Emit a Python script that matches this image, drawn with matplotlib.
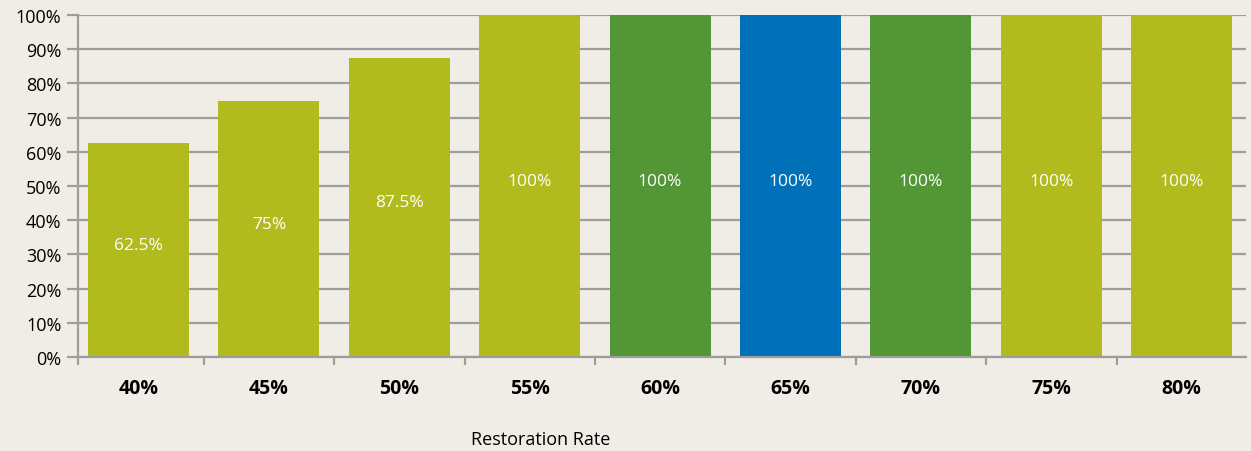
import numpy as np
import matplotlib
matplotlib.use("Agg")
import matplotlib.pyplot as plt
from matplotlib.ticker import FixedLocator, PercentFormatter

# === data ===
categories = ['40%', '45%', '50%', '55%', '60%', '65%', '70%', '75%', '80%']
values = [62.5, 75, 87.5, 100, 100, 100, 100, 100, 100]
value_labels = ['62.5%', '75%', '87.5%', '100%', '100%', '100%', '100%', '100%', '100%']
bar_colors = ['#b2bb1e', '#b2bb1e', '#b2bb1e', '#b2bb1e', '#529636',
              '#0070b8', '#529636', '#b2bb1e', '#b2bb1e']

bg = '#f0ede6'
grid_col = '#9d9d9d'

plt.rcParams['font.family'] = ['Open Sans', 'DejaVu Sans']

fig = plt.figure(figsize=(12.51, 4.52), dpi=100, facecolor=bg)
ax = fig.add_axes([78 / 1251, 1 - 358 / 452, (1246 - 78) / 1251, (358 - 16) / 452])
ax.set_facecolor(bg)

x = np.arange(len(categories))
bars = ax.bar(x, values, width=0.775, color=bar_colors, zorder=2)

for b, lab in zip(bars, value_labels):
    ax.text(b.get_x() + b.get_width() / 2, b.get_height() / 2 + 1.5, lab,
            ha='center', va='center', color='white', fontsize=12.5, zorder=3)

# Excel-style: plot area starts a little inside the first category
xmin, xmax = -0.464, len(categories) - 0.507
ax.set_xlim(xmin, xmax)
ax.set_ylim(0, 100)
ax.set_yticks(np.arange(0, 101, 10))
ax.yaxis.set_major_formatter(PercentFormatter(decimals=0))
ax.yaxis.grid(True, color=grid_col, linewidth=1.6, zorder=1)
ax.tick_params(axis='y', length=8, width=1.6, color=grid_col, labelsize=13, pad=4)

# category labels in the middle, tick marks on the boundaries
ax.set_xticks(x)
ax.set_xticklabels(categories, fontweight='bold', fontsize=14)
ax.tick_params(axis='x', which='major', length=0, pad=15)
ax.xaxis.set_minor_locator(FixedLocator([xmin] + list(np.arange(0.5, len(categories) - 1, 1))))
ax.tick_params(axis='x', which='minor', length=6, width=1.6, color=grid_col)

for s in ['top', 'right']:
    ax.spines[s].set_visible(False)
for s in ['left', 'bottom']:
    ax.spines[s].set_color(grid_col)
    ax.spines[s].set_linewidth(1.6)
    ax.spines[s].set_zorder(4)

fig.text(541 / 1251, 1 - 440 / 452, 'Restoration Rate', ha='center', va='center', fontsize=13)

plt.savefig('out.png', dpi=100, facecolor=bg)
